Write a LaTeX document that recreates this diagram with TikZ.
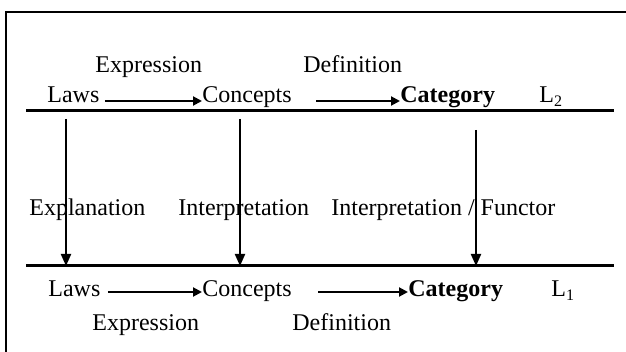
\documentclass[tikz,border=0pt]{standalone}
\usepackage{fontspec}
\setmainfont{Liberation Serif}
\usetikzlibrary{arrows.meta}

\begin{document}
\begin{tikzpicture}[x=0.5pt, y=-0.5pt,
  lbl/.style={inner sep=0pt, anchor=base west, font=\fontsize{12}{14}\selectfont},
  rowtop/.style={lbl, anchor=west, text height=1.5pt, text depth=0pt},
  rowbot/.style={lbl, anchor=west, text height=4.5pt, text depth=0pt},
  level/.style={line width=1.5pt},
  flow/.style={line width=1pt, -{Triangle[length=4.5pt, width=4.5pt]}},
  maps/.style={line width=1pt, -{Triangle[length=6pt, width=5pt]}}]
\useasboundingbox (0,0) rectangle (626,352);
% frame
\coordinate (fb) at (6,352);
\coordinate (ftl) at (6,12);
\coordinate (ftr) at (626,12);
\draw [line width=1.2pt] (fb) -- (ftl) -- (ftr);
% level L2
\node (exprT) [lbl] at (95,73) {Expression};
\node (defT) [lbl] at (303,73) {Definition};
\node (lawsT) [rowtop] at (47,101) {Laws};
\node (conT) [rowtop] at (202,101) {Concepts};
\node (catT) [rowtop] at (400,101) {\textbf{Category}};
\node (lT) [rowtop] at (539,101) {L\textsubscript{2}};
\draw [flow, shorten <=2.5pt] (lawsT) -- (conT);
\draw [flow, shorten <=12pt] (conT) -- (catT);
\coordinate (tl) at (26,111);
\coordinate (tr) at (614,111);
\draw [level] (tl) -- (tr);
% mappings between levels
\node (expl) [lbl] at (29,216) {Explanation};
\node (interp) [lbl] at (178,216) {Interpretation};
\node (functor) [lbl] at (331,216) {Interpretation / Functor};
\coordinate (bl) at (26,266);
\coordinate (br) at (614,266);
\coordinate (v1) at (66,119);
\coordinate (v2) at (240,119);
\coordinate (v3) at (476,130);
\draw [maps] (v1) -- (v1 |- bl);
\draw [maps] (v2) -- (v2 |- bl);
\draw [maps] (v3) -- (v3 |- bl);
% level L1
\draw [level] (bl) -- (br);
\node (lawsB) [rowbot] at (48,292) {Laws};
\node (conB) [rowbot] at (202,292) {Concepts};
\node (catB) [rowbot] at (408,292) {\textbf{Category}};
\node (lB) [rowbot] at (551,292) {L\textsubscript{1}};
\draw [flow, shorten <=3.5pt] (lawsB) -- (conB);
\draw [flow, shorten <=13pt] (conB) -- (catB);
\node (exprB) [lbl] at (92,330) {Expression};
\node (defB) [lbl] at (292,330) {Definition};
\end{tikzpicture}
\end{document}
